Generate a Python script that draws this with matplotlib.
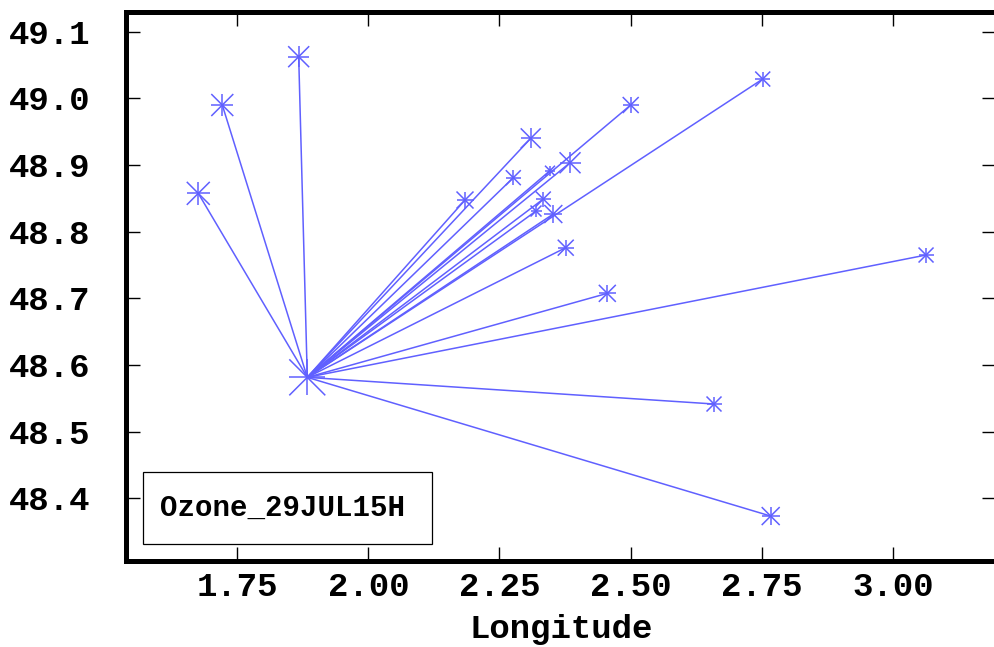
import matplotlib
matplotlib.use("Agg")
import matplotlib.pyplot as plt
from matplotlib.patches import Rectangle

# ---- data ----
center_lon = 1.8835
center_lat = 48.5815
center_size = 36  # px full width of marker

lons = [1.6756, 1.7214, 1.8671, 2.1843, 2.2764, 2.3096, 2.3464, 2.3846, 2.3336,
        2.3197, 2.3527, 2.3764, 2.4557, 2.5003, 2.7521, 3.0636, 2.6592, 2.7673]
lats = [48.8575, 48.990, 49.0625, 48.8475, 48.881, 48.940, 48.8915, 48.9034, 48.849,
        48.831, 48.8265, 48.776, 48.7075, 48.990, 49.029, 48.765, 48.5415, 48.3734]
sizes_px = [23, 22, 21, 17, 15, 20, 10, 21, 15, 11, 18, 16, 17, 16, 15, 15, 15, 18]

xticks = [1.75, 2.00, 2.25, 2.50, 2.75, 3.00]
xticklabels = ["1.75", "2.00", "2.25", "2.50", "2.75", "3.00"]
yticks = [48.4, 48.5, 48.6, 48.7, 48.8, 48.9, 49.0, 49.1]
yticklabels = ["48.4", "48.5", "48.6", "48.7", "48.8", "48.9", "49.0", "49.1"]
legend_label = "Ozone_29JUL15H"
xlabel = "Longitude"

color = "#6060ff"
mono = ["Liberation Mono", "DejaVu Sans Mono"]
plt.rcParams["font.family"] = mono
plt.rcParams["font.weight"] = "bold"

W, H = 994, 647
fig = plt.figure(figsize=(W / 100, H / 100), dpi=100)
left_px, right_px, top_px, bot_px = 125.5, 996, 11.5, 561
ax = fig.add_axes([left_px / W, (H - bot_px) / H,
                   (right_px - left_px) / W, (bot_px - top_px) / H])

for lo, la in zip(lons, lats):
    ax.plot([center_lon, lo], [center_lat, la], color=color, lw=1.1,
            solid_capstyle="butt", zorder=2)

pt = 0.72
s_all = [(s * pt) ** 2 for s in sizes_px] + [(center_size * pt) ** 2]
x_all = lons + [center_lon]
y_all = lats + [center_lat]
for m in ["+", "x"]:
    ax.scatter(x_all, y_all, s=s_all, marker=m, color=color, linewidths=1.1, zorder=3)

ax.set_xlim(1.5368, 3.197)
ax.set_ylim(48.306, 49.1303)
ax.set_xticks(xticks)
ax.set_xticklabels(xticklabels)
ax.set_yticks(yticks)
ax.set_yticklabels(yticklabels)

ax.tick_params(axis="both", direction="in", length=10, width=1.0,
               top=True, right=True, labelsize=24.5)
ax.tick_params(axis="x", pad=8)
ax.tick_params(axis="y", pad=25)
for lab in ax.get_xticklabels() + ax.get_yticklabels():
    lab.set_fontweight("bold")

for side in ["left", "top", "bottom"]:
    ax.spines[side].set_linewidth(3.6)
ax.spines["right"].set_visible(False)

ax.set_xlabel(xlabel, fontsize=24.5, fontweight="bold", labelpad=8)

# legend box
rect = Rectangle((142.7 / W, (H - 543.7) / H), (431.7 - 142.7) / W, (543.7 - 471.7) / H,
                 transform=fig.transFigure, facecolor="white", edgecolor="black",
                 linewidth=0.9, zorder=5)
fig.patches.append(rect)
fig.text(160 / W, (H - 508) / H, legend_label, fontsize=21, fontweight="bold",
         va="center", ha="left", zorder=6)

fig.savefig("out.png", dpi=100)
